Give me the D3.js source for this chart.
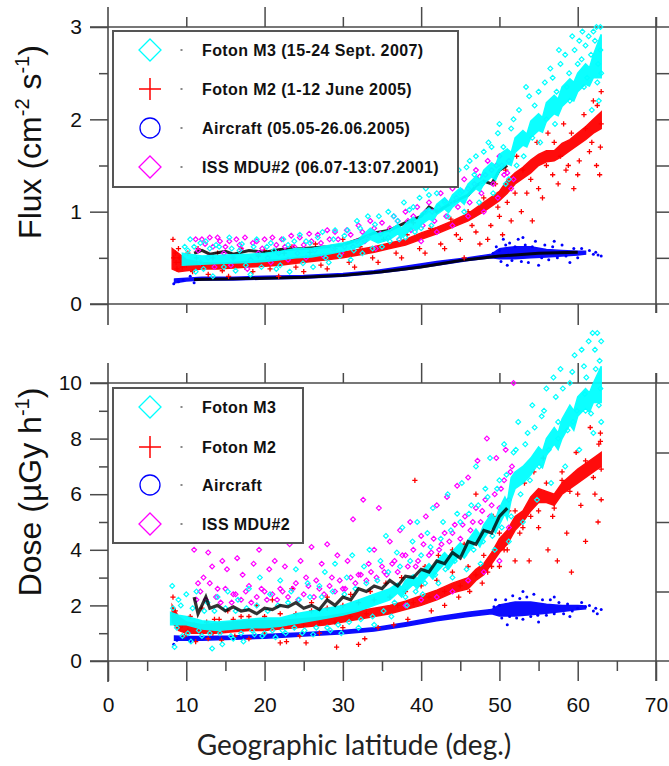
<!DOCTYPE html>
<html><head><meta charset="utf-8">
<script src="https://cdn.jsdelivr.net/npm/d3@7"></script>
<style>body{margin:0;background:#fff}svg{display:block}</style>
</head><body><svg id="c" width="669" height="766"></svg>
<script>
// ---------------- DATA ----------------
const xTicks = [0,10,20,30,40,50,60,70];
const fluxTicks = [0,1,2,3];
const doseTicks = [0,2,4,6,8,10];
const legendTop = ["Foton M3 (15-24 Sept. 2007)","Foton M2 (1-12 June 2005)","Aircraft (05.05-26.06.2005)","ISS MDU#2 (06.07-13:07.2001)"];
const legendBottom = ["Foton M3","Foton M2","Aircraft","ISS MDU#2"];

// dense bands: [latitude, low, high]
const fluxM3Band = [[9.5,0.42,0.55],[12,0.43,0.52],[15,0.44,0.53],[18,0.45,0.54],[20,0.46,0.55],[22,0.48,0.57],[24,0.5,0.6],[26,0.51,0.6],[28,0.54,0.63],[30,0.57,0.66],[32,0.62,0.7],[33.5,0.7,0.82],[34.5,0.66,0.76],[36,0.7,0.8],[37,0.76,0.86],[37.5,0.72,0.82],[38,0.76,0.87],[39,0.82,0.94],[39.5,0.8,0.9],[40,0.86,0.98],[41,0.92,1.04],[41.5,0.9,1.0],[42,0.97,1.08],[43,1.03,1.15],[43.5,0.99,1.1],[44,1.05,1.18],[45,1.12,1.26],[45.5,1.08,1.22],[46,1.17,1.3],[47,1.25,1.38],[47.5,1.22,1.35],[48,1.3,1.45],[49,1.38,1.53],[49.5,1.34,1.5],[50,1.44,1.62],[51,1.52,1.68],[51.5,1.5,1.64],[52,1.64,1.8],[53,1.72,1.88],[53.5,1.7,1.84],[54,1.8,1.98],[55,1.88,2.06],[55.5,1.86,2.02],[56,1.98,2.18],[57,2.06,2.26],[57.5,2.04,2.22],[58,2.14,2.35],[59,2.22,2.44],[59.5,2.2,2.4],[60,2.3,2.5],[61,2.38,2.6],[61.5,2.36,2.56],[62,2.45,2.7],[63,2.45,2.92]];
const fluxM2Band = [[8.2,0.38,0.6],[9,0.35,0.55],[10,0.36,0.48],[12,0.38,0.45],[14,0.38,0.44],[16,0.39,0.45],[18,0.4,0.46],[20,0.41,0.47],[22,0.42,0.48],[24,0.44,0.5],[26,0.46,0.52],[28,0.48,0.54],[30,0.5,0.56],[32,0.53,0.59],[34,0.56,0.62],[36,0.6,0.66],[38,0.64,0.7],[40,0.7,0.77],[42,0.76,0.83],[44,0.83,0.9],[46,0.9,0.98],[48,1.0,1.1],[50,1.12,1.22],[51,1.2,1.34],[52,1.3,1.42],[53,1.36,1.48],[54,1.42,1.56],[55,1.5,1.62],[56,1.54,1.66],[57,1.55,1.66],[58,1.6,1.74],[59,1.66,1.78],[60,1.72,1.85],[61,1.78,1.92],[62,1.85,2.0],[63,1.9,2.08]];
const fluxAirBand = [[8.5,0.23,0.27],[10,0.25,0.28],[12,0.26,0.29],[16,0.26,0.29],[20,0.27,0.3],[25,0.28,0.31],[30,0.3,0.33],[34,0.33,0.36],[38,0.37,0.41],[42,0.42,0.46],[46,0.47,0.5],[49,0.5,0.54],[50,0.49,0.6],[52,0.49,0.62],[54,0.5,0.62],[56,0.51,0.59],[58,0.52,0.58],[60,0.53,0.57],[61,0.54,0.57]];
// black mean curves: [latitude, value]
const fluxAirMean = [[11,0.265],[15,0.27],[20,0.28],[25,0.29],[30,0.31],[35,0.35],[40,0.4],[45,0.47],[50,0.52],[55,0.55],[60,0.56]];
const fluxIssMean = [[11,0.55],[12,0.58],[13,0.54],[15,0.57],[16,0.54],[18,0.58],[20,0.56],[22,0.59],[25,0.6],[28,0.62],[30,0.64],[32,0.7],[34,0.77],[36,0.8],[38,0.88],[40,0.95],[41,1.05],[42,1.0],[44,1.1],[46,1.18],[47,1.28],[48,1.33],[49,1.3],[50,1.45],[51,1.5]];
// scattered points: [latitude, value]
const fluxM3Pts = [[9.8,0.62],[10.5,0.7],[11.2,0.35],[12.5,0.68],[13.4,0.3],[14.2,0.62],[15.5,0.72],[16.3,0.36],[17.1,0.65],[18.2,0.32],[19,0.7],[20.3,0.62],[21.5,0.38],[22.4,0.7],[23.2,0.35],[24.5,0.75],[25.3,0.68],[26.2,0.4],[27.4,0.78],[28.2,0.45],[29,0.8],[30.2,0.74],[31,0.48],[31.8,0.9],[32.5,0.55],[33.2,0.95],[34.1,0.86],[35,0.62],[35.8,1.0],[36.5,0.95],[37.2,0.7],[37.8,1.1],[38.5,1.02],[39.2,0.78],[39.8,1.15],[40.6,1.25],[41.3,0.85],[42,1.2],[42.7,1.35],[43.4,0.95],[44,1.3],[44.8,1.45],[45.5,1.0],[46.2,1.55],[46.8,1.4],[47.4,1.1],[48,1.65],[48.6,1.75],[49.2,1.2],[49.8,1.85],[50.5,1.7],[51.2,1.35],[51.8,2.0],[52.5,2.1],[53.1,1.6],[53.8,2.25],[54.5,2.15],[55.2,1.75],[55.8,2.4],[56.5,2.55],[57.1,1.95],[57.8,2.6],[58.4,2.7],[59,2.2],[59.6,2.75],[60.2,2.85],[60.8,2.35],[61.4,2.9],[62,2.95],[62.5,2.4],[62.9,3.0],[62.7,2.2],[61.8,2.1],[60.5,2.65],[58.9,2.5],[57.3,2.3],
 [10.2,0.58],[11,0.62],[11.8,0.66],[12.2,0.38],[13,0.6],[13.8,0.64],[14.8,0.4],[15.8,0.6],[16.8,0.58],[17.6,0.42],[18.6,0.62],[19.6,0.4],[20.8,0.66],[21.2,0.58],[22,0.42],[23,0.64],[23.8,0.68],[24.9,0.44],[25.8,0.66],[26.8,0.72],[27.8,0.5],[28.8,0.7],[29.6,0.52],[30.6,0.8],[31.4,0.58],[32.2,0.82],[33.8,0.6],[34.6,0.95],[36,0.68],[37,0.9],[38,0.72],[39,1.05],[40,0.82],[41,1.18],[41.8,1.3],[43,1.1],[43.8,1.42],[45,1.2],[45.8,1.48],[47,1.6],[47.8,1.3],[49,1.7],[50,1.95],[50.8,1.3],[51.5,1.9],[52.2,1.5],[53.4,2.35],[54.2,1.8],[55,2.3],[56,2.0],[56.8,2.45],[57.6,2.75],[58.6,2.35],[59.3,2.9],[60,2.6],[60.6,2.95],[61.2,2.45],[61.7,2.7],[62.2,2.85],[62.6,2.6],[62.9,2.75],[63,2.5],[62.4,3.0],[61,2.8]];
const fluxIssPts = [[11.2,0.7],[11.8,0.45],[12.4,0.65],[13,0.72],[13.6,0.4],[14.3,0.68],[15,0.62],[15.7,0.42],[16.4,0.7],[17,0.6],[17.8,0.38],[18.5,0.66],[19.2,0.55],[20,0.7],[20.8,0.45],[21.5,0.64],[22.2,0.7],[23,0.48],[23.8,0.62],[24.5,0.72],[25.3,0.5],[26,0.68],[26.8,0.75],[27.5,0.52],[28.3,0.7],[29,0.78],[29.8,0.55],[30.5,0.8],[31.3,0.62],[32,0.85],[32.8,0.68],[33.5,0.9],[34.2,0.6],[35,0.88],[35.8,0.72],[36.5,0.95],[37.2,0.7],[38,1.0],[38.7,0.8],[39.5,1.05],[40.2,0.85],[41,1.1],[41.7,0.9],[42.5,1.2],[43.2,0.95],[44,1.25],[44.7,1.05],[45.5,1.35],[46.2,1.1],[47,1.45],[47.7,1.2],[48.5,1.55],[49.2,1.3],[50,1.6],[50.6,1.4],[51.2,1.55],[51.8,1.35],[49.8,1.15],[48,1.0],[46,0.95],[44,0.85],[42,0.78],[40,0.68],
 [11.5,0.58],[12,0.7],[12.8,0.5],[13.4,0.62],[14,0.72],[14.8,0.55],[15.5,0.68],[16,0.5],[16.8,0.64],[17.5,0.72],[18.2,0.48],[19,0.68],[19.7,0.6],[20.4,0.5],[21,0.72],[21.8,0.55],[22.6,0.62],[23.4,0.74],[24.2,0.55],[25,0.64],[25.7,0.76],[26.4,0.58],[27.2,0.66],[28,0.8],[28.7,0.6],[29.4,0.7],[30.2,0.62],[31,0.75],[31.8,0.68],[32.5,0.78],[33.2,0.72],[34,0.82],[34.8,0.76],[36,0.82],[37,0.9],[38.3,0.9],[39,0.95],[40.6,1.0],[41.4,1.0],[42.2,1.05],[43,1.12],[43.8,1.1],[44.5,1.15],[45.2,1.22],[46,1.25],[46.8,1.3],[47.5,1.38],[48.2,1.4],[49,1.45],[49.6,1.5],[50.3,1.5],[51,1.42],[51.5,1.25]];
const fluxM2Pts = [[8.3,0.7],[8.6,0.55],[9,0.6],[9.3,0.45],[8.8,0.38],[10.2,0.55],[11.5,0.6],[12.8,0.32],[14,0.55],[15.4,0.3],[17,0.6],[18.5,0.35],[20,0.58],[21.8,0.3],[23.5,0.62],[25,0.35],[26.5,0.65],[28,0.38],[30,0.7],[31.5,0.4],[33,0.72],[34.5,0.45],[36,0.8],[37.5,0.5],[39,0.88],[40.5,0.55],[42,1.0],[43,0.6],[44.5,0.75],[45.5,0.5],[46.5,0.85],[47.5,0.65],[48.5,0.7],[49.5,1.3],[50,0.95],[50.8,1.45],[51.5,0.9],[52.2,1.6],[52.8,1.0],[53.5,1.2],[54.2,0.9],[54.8,1.75],[55.5,1.15],[56.2,1.85],[56.8,1.4],[57.5,1.3],[58.2,1.95],[58.8,1.5],[59.5,1.25],[60.2,1.55],[60.8,2.05],[61.5,1.65],[62,2.2],[62.4,1.5],[62.8,1.4],[62.9,1.7],[63,2.3],
 [8.4,0.5],[8.7,0.45],[9.1,0.5],[9.5,0.4],[10,0.42],[10.8,0.35],[11.3,0.5],[12.2,0.42],[13.4,0.5],[14.6,0.36],[16,0.5],[17.5,0.4],[19.2,0.52],[20.7,0.38],[22.5,0.55],[24,0.4],[25.8,0.56],[27.2,0.42],[29,0.6],[30.8,0.45],[32.2,0.62],[33.8,0.5],[35.2,0.7],[36.8,0.55],[38.2,0.75],[39.8,0.6],[41.2,0.82],[42.5,0.65],[43.8,0.92],[45,0.7],[46,1.0],[47,0.78],[48,1.15],[48.9,0.85],[49.8,1.05],[50.4,0.75],[51,1.1],[52,1.2],[53,1.45],[54,1.35],[55,1.25],[56,1.5],[57,1.75],[57.8,1.6],[58.5,1.45],[59.2,1.85],[60,1.4],[61,1.9],[61.8,1.75],[62.5,2.15],[63,1.95]];
const fluxAirPts = [[8.4,0.22],[9,0.24],[9.6,0.26],[10.5,0.3],[11,0.23],[49.6,0.62],[50.5,0.7],[51,0.42],[53,0.72],[55,0.42],[57,0.68],[59,0.45],[60.5,0.6],[61.5,0.58],[62.3,0.56],[63,0.52],
 [49.2,0.55],[50,0.58],[50.2,0.46],[50.8,0.64],[51.3,0.66],[51.6,0.47],[52,0.62],[52.4,0.7],[52.8,0.46],[53.3,0.64],[53.7,0.45],[54.2,0.62],[54.6,0.68],[55.4,0.5],[55.8,0.64],[56.3,0.48],[56.8,0.62],[57.4,0.5],[58,0.64],[58.5,0.52],[59.5,0.6],[60,0.5],[62,0.54],[62.6,0.53]];

const doseM3Band = [[8,1.3,1.75],[9,1.3,1.65],[10,1.3,1.6],[12,1.15,1.45],[14,1.1,1.4],[16,1.15,1.45],[18,1.2,1.5],[20,1.2,1.55],[22,1.25,1.55],[24,1.35,1.7],[26,1.45,1.8],[28,1.55,1.9],[30,1.65,2.0],[32,1.8,2.2],[34,2.0,2.4],[36,2.2,2.6],[37,2.45,2.8],[37.5,2.3,2.65],[38,2.5,2.9],[39,2.75,3.1],[39.5,2.6,2.95],[40,2.8,3.2],[41,3.1,3.5],[41.5,2.95,3.35],[42,3.2,3.6],[43,3.5,3.9],[43.5,3.3,3.75],[44,3.5,3.95],[45,3.85,4.25],[45.5,3.7,4.1],[46,3.9,4.35],[47,4.3,4.75],[47.5,4.1,4.55],[48,4.4,4.9],[49,4.8,5.3],[49.5,4.6,5.1],[50,4.9,5.5],[50.7,5.3,5.9],[51,5.1,5.7],[51.5,5.8,6.6],[52,6.2,6.8],[53,6.4,7.0],[54,6.7,7.3],[55,7.1,7.7],[55.5,6.95,7.55],[56,7.4,8.0],[57,7.8,8.4],[57.5,7.6,8.2],[58,8.0,8.7],[59,8.5,9.2],[59.5,8.3,9.0],[60,8.8,9.5],[61,9.1,9.8],[61.5,8.95,9.65],[62,9.3,10.0],[63,9.3,10.6]];
const doseM2Band = [[8.2,1.4,2.0],[9,1.1,1.6],[10,1.0,1.4],[12,1.0,1.3],[14,1.0,1.35],[16,1.05,1.4],[18,1.1,1.45],[20,1.1,1.45],[22,1.15,1.45],[24,1.2,1.5],[26,1.25,1.55],[28,1.3,1.6],[30,1.4,1.7],[32,1.5,1.8],[34,1.6,1.9],[36,1.7,2.0],[38,1.85,2.15],[40,2.0,2.35],[42,2.2,2.55],[44,2.45,2.8],[46,2.6,3.0],[47,2.9,3.3],[48,3.1,3.5],[49,3.5,3.9],[50,3.9,4.4],[51,4.2,4.7],[52,4.7,5.2],[53,5.0,5.4],[54,5.4,5.9],[55,5.7,6.2],[56,5.7,6.1],[57,5.6,6.0],[58,6.0,6.4],[60,6.4,6.9],[62,6.8,7.3],[63,7.0,7.5]];
const doseAirBand = [[8.5,0.75,0.9],[10,0.75,0.88],[12,0.75,0.88],[16,0.78,0.9],[20,0.82,0.95],[25,0.9,1.02],[30,0.98,1.1],[34,1.08,1.2],[38,1.25,1.38],[42,1.45,1.58],[46,1.6,1.75],[49,1.7,1.85],[50,1.62,2.02],[52,1.62,2.12],[54,1.66,2.12],[56,1.72,2.04],[58,1.78,2.0],[60,1.85,2.0],[61,1.88,1.98]];
const doseIssMean = [[11,2.3],[11.5,1.7],[12,2.0],[12.5,2.3],[13,1.9],[14,2.0],[15,1.8],[16,1.95],[17,1.8],[18,1.85],[19,1.7],[20,1.9],[21,1.85],[22,2.0],[23,1.95],[24,2.1],[25,1.9],[26,2.0],[27,1.85],[28,2.2],[29,2.0],[30,2.3],[31,2.2],[32,2.6],[33,2.5],[34,2.7],[35,2.6],[36,2.9],[37,2.7],[38,3.05],[39,3.0],[40,3.3],[41,3.2],[42,3.6],[43,3.5],[44,3.9],[45,3.7],[46,4.3],[47,4.2],[48,4.7],[49,4.6],[50,5.2],[51,5.5]];
const doseM3Pts = [[8.2,2.7],[8.5,0.5],[9,2.2],[9.5,0.9],[10,2.4],[10.6,0.7],[11.3,2.5],[12,0.9],[12.7,2.1],[13.3,0.45],[14,2.3],[14.6,0.6],[15.3,2.5],[16,0.8],[16.6,2.2],[17.3,0.7],[18,2.6],[18.7,0.95],[19.4,3.0],[20,1.0],[20.7,2.4],[21.4,0.85],[22,2.9],[22.7,1.0],[23.4,2.5],[24,3.3],[24.8,1.0],[25.5,2.8],[26.2,0.95],[27,2.7],[27.7,3.2],[28.4,1.1],[29,3.5],[29.8,1.0],[30.5,3.0],[31.2,3.8],[32,1.2],[32.7,3.4],[33.4,4.0],[34,1.3],[34.8,3.6],[35.5,4.5],[36.2,1.6],[36.9,3.9],[37.6,4.8],[38.2,2.0],[38.9,4.3],[39.5,5.0],[40.2,2.4],[40.8,4.6],[41.5,5.5],[42.2,2.8],[42.8,5.0],[43.4,6.0],[44,3.0],[44.6,5.3],[45.2,6.4],[45.8,3.3],[46.4,5.6],[47,7.0],[47.6,3.5],[48.2,6.2],[48.8,7.3],[49.4,4.0],[50,6.5],[50.6,7.8],[51.2,4.3],[51.8,7.5],[52.4,8.6],[53,5.0],[53.6,8.2],[54.2,9.2],[54.8,5.8],[55.4,8.8],[56,9.8],[56.6,6.4],[57.2,9.5],[57.8,10.5],[58.4,7.0],[59,10.0],[59.6,11.0],[60.2,7.6],[60.8,10.6],[61.4,11.5],[62,8.2],[62.5,11.8],[62.8,10.8],[63,8.6],[62.2,11.2],[61,9.0],[59.4,8.6],[57.5,8.0],
 [8.3,1.9],[8.8,1.2],[9.3,2.0],[10.2,1.0],[10.8,1.9],[11.6,1.1],[12.3,1.8],[13,1.0],[13.6,1.8],[14.3,1.0],[15,1.9],[15.7,0.9],[16.3,1.8],[17,1.0],[17.7,1.9],[18.4,1.1],[19,2.0],[19.7,0.9],[20.4,1.8],[21,1.1],[21.7,2.0],[22.3,1.1],[23,2.1],[23.8,1.2],[24.4,2.2],[25.1,1.1],[25.8,2.3],[26.6,1.2],[27.3,2.3],[28,1.2],[28.7,2.5],[29.4,1.3],[30.2,2.4],[30.8,1.4],[31.6,2.6],[32.3,1.5],[33,2.8],[33.8,1.6],[34.4,2.9],[35.2,1.8],[35.8,3.2],[36.6,2.1],[37.3,3.4],[38,2.3],[38.6,3.6],[39.3,2.5],[40,3.8],[40.5,2.8],[41.2,4.1],[41.8,3.1],[42.5,4.4],[43.1,3.3],[43.8,4.7],[44.3,3.6],[45,5.0],[45.5,3.8],[46.1,5.3],[46.7,4.0],[47.3,5.6],[47.9,4.3],[48.5,5.9],[49.1,4.5],[49.7,6.2],[50.3,4.8],[50.9,6.7],[51.5,5.2],[52.1,7.6],[52.7,6.0],[53.3,7.8],[53.9,6.5],[54.5,8.4],[55.1,7.0],[55.7,9.0],[56.3,7.6],[56.9,10.2],[57.5,8.6],[58.1,9.8],[58.7,8.3],[59.3,10.4],[59.9,9.0],[60.5,11.2],[61.1,10.2],[61.7,8.9],[62.3,10.5],[62.7,9.2],[63,11.5],[62.9,9.8],[61.9,11.8],[60.9,9.6]];
const doseIssPts = [[11,4.0],[11.5,2.8],[12.2,3.0],[12.8,3.9],[13.3,3.4],[14,2.6],[14.6,3.6],[15.2,3.3],[16,2.4],[16.5,3.7],[17.2,3.1],[18,2.7],[18.6,3.5],[19.3,4.0],[20,2.5],[20.6,3.3],[21.3,3.6],[22,2.6],[22.6,3.4],[23.2,4.2],[24,2.8],[24.6,3.6],[25.3,3.0],[26,4.1],[26.6,2.9],[27.3,3.5],[28,4.2],[28.6,3.0],[29.3,3.8],[30,2.6],[30.6,3.6],[31.3,5.1],[32,3.1],[32.6,5.8],[33.3,3.5],[34,4.0],[34.6,5.5],[35.3,3.2],[36,4.3],[36.6,3.6],[37.3,4.7],[38,3.8],[38.6,5.0],[39.3,3.4],[40,4.5],[40.6,5.2],[41.3,3.9],[42,5.6],[42.6,4.2],[43.3,5.9],[44,4.6],[44.6,6.3],[45.3,4.9],[46,6.6],[46.6,5.0],[47.2,7.2],[47.8,5.4],[48.4,8.0],[49,5.6],[49.6,7.3],[50.2,6.2],[50.8,7.6],[51.4,6.8],[51.8,10.0],[51.2,4.8],[50,3.6],[48,3.2],[46,2.9],[44,2.5],[42,2.3],[40,2.2],[38,2.0],
 [11.3,2.2],[11.8,2.5],[12.5,2.2],[13,2.8],[13.8,2.3],[14.4,2.1],[15,2.6],[15.8,2.1],[16.3,2.4],[17,2.2],[17.6,2.5],[18.3,2.1],[19,2.3],[19.6,2.6],[20.3,2.2],[21,2.4],[21.6,2.2],[22.3,2.5],[23,2.3],[23.6,2.6],[24.3,2.2],[25,2.4],[25.6,2.7],[26.3,2.3],[27,2.6],[27.6,2.4],[28.3,2.7],[29,2.5],[29.6,2.9],[30.3,2.6],[31,3.0],[31.6,2.8],[32.3,3.1],[33,2.9],[33.6,3.2],[34.3,3.0],[35,3.4],[35.6,3.1],[36.3,3.5],[37,3.2],[37.6,3.8],[38.3,3.4],[39,4.0],[39.6,3.6],[40.3,4.2],[41,3.8],[41.6,4.4],[42.3,4.0],[43,4.6],[43.6,4.3],[44.3,4.9],[45,4.4],[45.6,5.2],[46.3,4.7],[47,5.5],[47.6,5.0],[48.2,5.8],[48.8,5.2],[49.4,6.0],[50,5.5],[50.6,6.5],[51.2,5.8],[51.6,7.0]];
const doseM2Pts = [[8.3,2.3],[8.6,1.8],[9.2,1.2],[9.8,0.9],[10.5,1.6],[11.2,0.7],[12,1.9],[12.8,0.8],[13.6,1.5],[14.5,0.75],[15.3,1.8],[16.2,0.9],[17,1.6],[18,0.8],[19,2.0],[20,1.0],[21,2.2],[22,0.65],[22.8,0.7],[23.5,2.6],[24.5,0.9],[25.3,0.65],[26,2.1],[27,1.0],[28,2.3],[29.2,0.5],[30,1.2],[31,2.4],[32,0.6],[32.8,0.8],[33.5,2.5],[34.5,1.2],[35.5,2.8],[36.5,1.3],[37.5,3.0],[38.3,1.5],[39.2,6.5],[39.8,2.2],[40.5,3.4],[41.3,1.8],[42.2,3.8],[43,2.0],[44,4.0],[44.8,2.3],[45.5,4.2],[46.2,2.5],[47,6.0],[47.8,2.8],[48.5,3.2],[49.2,5.2],[50,3.4],[50.6,4.0],[51.2,5.4],[52,3.6],[52.6,4.6],[53.2,6.4],[53.8,3.6],[54.4,6.8],[55,4.8],[55.6,7.3],[56.2,4.0],[56.8,5.2],[57.4,3.6],[58,6.5],[58.6,4.6],[59.2,3.2],[59.8,7.5],[60.4,5.6],[61,4.3],[61.6,8.4],[62.2,6.0],[62.6,5.0],[62.9,8.2],[63,5.8],[62.9,7.9],
 [8.4,1.6],[9,1.5],[9.5,1.3],[10.2,1.1],[11,1.3],[11.8,1.0],[12.6,1.4],[13.4,1.0],[14.2,1.5],[15,1.1],[16,1.5],[17,1.1],[18,1.6],[19,1.2],[20,1.6],[21,1.2],[22,1.7],[23,1.3],[24,1.7],[25,1.3],[26,1.8],[27,1.4],[28,1.9],[29,1.4],[30,2.0],[31,1.6],[32,2.1],[33,1.7],[34,2.2],[35,1.8],[36,2.3],[37,2.0],[38,2.5],[39,2.1],[40,2.7],[41,2.3],[42,2.9],[43,2.5],[44,3.2],[45,2.7],[46,3.4],[47,3.1],[48,3.8],[49,3.4],[50,4.6],[51,4.0],[52,5.4],[53,4.8],[54,5.2],[55,5.4],[56,6.4],[57,5.5],[58,6.8],[59,6.1],[60,6.0],[61,7.2],[62,6.6],[62.7,7.8],[63,6.9]];
const doseAirPts = [[8.4,0.6],[8.8,0.75],[9.5,0.85],[10.5,0.7],[49.5,2.2],[51,1.3],[53,2.5],[55,1.4],[57,2.3],[59,1.6],[60.5,2.1],[61.5,2.0],[62.3,1.9],[63,1.85],[62.5,1.7],
 [49.3,1.95],[50,2.0],[50.3,1.55],[50.8,2.2],[51.3,1.6],[51.7,2.35],[52.2,1.55],[52.6,2.25],[53,1.5],[53.5,2.3],[54,1.6],[54.4,2.4],[54.9,1.65],[55.5,2.2],[56,1.65],[56.5,2.2],[57,1.7],[57.6,2.1],[58.2,1.7],[58.7,2.05],[59.3,1.8],[60,1.9],[61,1.95],[62,1.8]];

// ---------------- DRAWING ----------------
const CY="#00ffff", RD="#ff0000", BL="#0000ff", MG="#ff00ff", AX="#4a4a4a";
const svg = d3.select("#c");
const x = d3.scaleLinear().domain([0,70]).range([108,656]);
const yTop = d3.scaleLinear().domain([0,3]).range([304,27]);
const yBot = d3.scaleLinear().domain([0,10]).range([661,383]);
const tickFont = "'Liberation Sans Narrow','Arial Narrow','Liberation Sans',Arial,sans-serif";

function styleAxis(g){
  g.select(".domain").remove();
  g.selectAll(".tick line").attr("stroke",AX).attr("stroke-width",1.5);
  g.selectAll(".tick text").attr("font-family",tickFont).attr("font-size",21).attr("fill","#111");
}
function hline(yv,x1,x2){svg.append("line").attr("x1",x1).attr("x2",x2).attr("y1",yv).attr("y2",yv).attr("stroke",AX).attr("stroke-width",1.6);}
function vline(xv,y1,y2){svg.append("line").attr("x1",xv).attr("x2",xv).attr("y1",y1).attr("y2",y2).attr("stroke",AX).attr("stroke-width",1.6);}

function frame(y, yMajor, yMinor, yRight, showX){
  const top = y.range()[1], bot = y.range()[0];
  hline(top, 90, 669); hline(bot, 90, 669);
  vline(x(0), top-20, bot+21);
  vline(x(70), top-10, bot+(showX?20:9));
  svg.append("g").attr("transform",`translate(0,${top})`).call(d3.axisTop(x).tickValues([20,40,60]).tickSize(20).tickFormat("")).call(styleAxis);
  svg.append("g").attr("transform",`translate(0,${top})`).call(d3.axisTop(x).tickValues([10,30,50,70]).tickSize(10).tickFormat("")).call(styleAxis);
  if(showX){
    svg.append("g").attr("transform",`translate(0,${bot})`).call(d3.axisBottom(x).tickValues(xTicks).tickSize(20).tickPadding(16).tickFormat(d3.format("d"))).call(styleAxis);
    svg.append("g").attr("transform",`translate(0,${bot})`).call(d3.axisBottom(x).tickValues([5,15,25,35,45,55,65]).tickSize(10).tickFormat("")).call(styleAxis);
  } else {
    svg.append("g").attr("transform",`translate(0,${bot})`).call(d3.axisBottom(x).tickValues([20,40,60]).tickSize(21).tickFormat("")).call(styleAxis);
    svg.append("g").attr("transform",`translate(0,${bot})`).call(d3.axisBottom(x).tickValues([10,30,50,70]).tickSize(9).tickFormat("")).call(styleAxis);
  }
  svg.append("g").attr("transform",`translate(${x(0)},0)`).call(d3.axisLeft(y).tickValues(yMajor).tickSize(18).tickPadding(8).tickFormat(d3.format("d"))).call(styleAxis);
  svg.append("g").attr("transform",`translate(${x(0)},0)`).call(d3.axisLeft(y).tickValues(yMinor).tickSize(9).tickFormat("")).call(styleAxis);
  svg.append("g").attr("transform",`translate(${x(70)},0)`).call(d3.axisRight(y).tickValues(yRight).tickSize(13).tickFormat("")).call(styleAxis);
}

const diamondPath = s => `M0,${-s}L${s},0L0,${s}L${-s},0Z`;
const plusPath = s => `M${-s},0H${s}M0,${-s}V${s}`;

function band(data, y, color, op){
  const a = d3.area().x(d=>x(d[0])).y0(d=>y(d[1])).y1(d=>y(d[2]));
  svg.append("path").datum(data).attr("d",a).attr("fill",color).attr("stroke",color).attr("stroke-width",1.5).attr("opacity",op);
}
function meanLine(data, y, w, op){
  const l = d3.line().x(d=>x(d[0])).y(d=>y(d[1]));
  svg.append("path").datum(data).attr("d",l).attr("fill","none").attr("stroke","#000").attr("stroke-width",w).attr("opacity",op);
}
function pts(data, y, color, kind){
  const g = svg.append("g");
  if(kind==="dot"){
    g.selectAll("circle").data(data).join("circle").attr("cx",d=>x(d[0])).attr("cy",d=>y(d[1])).attr("r",1.5).attr("fill",color);
  } else {
    g.selectAll("path").data(data).join("path")
      .attr("transform",d=>`translate(${x(d[0])},${y(d[1])})`)
      .attr("d", kind==="plus" ? plusPath(2.6) : diamondPath(2.4))
      .attr("fill","none").attr("stroke",color).attr("stroke-width",kind==="plus"?1.3:1.2);
  }
}

function panel(y, d, blackOnTop){
  band(d.airBand, y, BL, 0.95);
  pts(d.airPts, y, BL, "dot");
  if(d.airMean) meanLine(d.airMean, y, 3, 0.9);
  pts(d.m2Pts, y, RD, "plus");
  band(d.m2Band, y, RD, 0.95);
  if(!blackOnTop) meanLine(d.issMean, y, 3, 0.85);
  pts(d.issPts, y, MG, "diamond");
  pts(d.m3Pts, y, CY, "diamond");
  band(d.m3Band, y, CY, 0.95);
  if(blackOnTop) meanLine(d.issMean, y, 3.2, 0.8);
}

frame(yTop, fluxTicks, [0.5,1.5,2.5], [0.5,1,1.5,2,2.5], false);
frame(yBot, doseTicks, [1,3,5,7,9], [2.5,5,7.5], true);

panel(yTop, {airBand:fluxAirBand, airPts:fluxAirPts, airMean:fluxAirMean, m2Pts:fluxM2Pts, m2Band:fluxM2Band, issPts:fluxIssPts, issMean:fluxIssMean, m3Pts:fluxM3Pts, m3Band:fluxM3Band}, false);
panel(yBot, {airBand:doseAirBand, airPts:doseAirPts, airMean:null, m2Pts:doseM2Pts, m2Band:doseM2Band, issPts:doseIssPts, issMean:doseIssMean, m3Pts:doseM3Pts, m3Band:doseM3Band}, true);

// legends
function legend(x0,y0,w,h,rowY,labels){
  svg.append("rect").attr("x",x0).attr("y",y0).attr("width",w).attr("height",h).attr("fill","#fff").attr("stroke","#555").attr("stroke-width",2);
  const cols=[CY,RD,BL,MG];
  labels.forEach((t,i)=>{
    const cy=rowY[i], cx=150;
    if(i===0||i===3) svg.append("path").attr("d",diamondPath(11)).attr("transform",`translate(${cx},${cy})`).attr("fill","none").attr("stroke",cols[i]).attr("stroke-width",1.3);
    if(i===1) svg.append("path").attr("d",plusPath(11)).attr("transform",`translate(${cx},${cy})`).attr("fill","none").attr("stroke",cols[i]).attr("stroke-width",1.5);
    if(i===2) svg.append("circle").attr("cx",cx).attr("cy",cy).attr("r",10).attr("fill","none").attr("stroke",cols[i]).attr("stroke-width",1.3);
    svg.append("rect").attr("x",180.5).attr("y",cy-1).attr("width",2).attr("height",2).attr("fill","#888");
    svg.append("text").attr("x",202).attr("y",cy+6).text(t).attr("font-family","'Liberation Sans',Arial,sans-serif").attr("font-weight","bold").attr("font-size",16).attr("letter-spacing",0.4).attr("fill","#111");
  });
}
legend(113,31,345,156,[50,89,128,167],legendTop);
legend(113,388,190,155,[407,447,485,524],legendBottom);

// axis titles
const tf="'Liberation Sans',Arial,sans-serif";
const t1 = svg.append("text").attr("transform","translate(41,142) rotate(-90)").attr("text-anchor","middle").attr("font-family",tf).attr("font-size",32).attr("fill","#111");
t1.append("tspan").text("Flux (cm");
t1.append("tspan").text("-2").attr("font-size",20).attr("dy",-12);
t1.append("tspan").text(" s").attr("dy",12);
t1.append("tspan").text("-1").attr("font-size",20).attr("dy",-12);
t1.append("tspan").text(")").attr("dy",12);
const t2 = svg.append("text").attr("transform","translate(41,492) rotate(-90)").attr("text-anchor","middle").attr("font-family",tf).attr("font-size",32).attr("fill","#111");
t2.append("tspan").text("Dose (\u00b5Gy h");
t2.append("tspan").text("-1").attr("font-size",20).attr("dy",-12);
t2.append("tspan").text(")").attr("dy",12);
svg.append("text").attr("x",354).attr("y",755).attr("text-anchor","middle").attr("font-family","Lato,'Open Sans',sans-serif").attr("font-size",28).attr("fill","#222").text("Geographic latitude (deg.)");
</script></body></html>
